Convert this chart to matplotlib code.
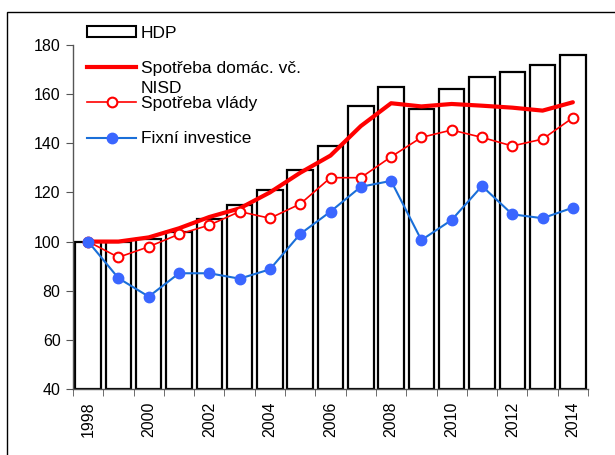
import matplotlib
matplotlib.use("Agg")
import matplotlib.pyplot as plt
from matplotlib.patches import Rectangle, Patch
from matplotlib.lines import Line2D

plt.rcParams['font.family'] = ['Liberation Sans', 'DejaVu Sans']

years = list(range(1998, 2015))
hdp = [100, 100, 101, 104, 109, 115, 121, 129, 139, 155, 163, 154, 162, 167, 169, 172, 176]
consumption = [100, 100, 101.7, 105.4, 110, 113.5, 120, 128, 135, 147, 156.3, 155, 156, 155.3, 154.5, 153.3, 156.7]
government = [100, 93.6, 97.9, 103, 106.7, 112.2, 109.5, 115.3, 126, 126, 134.5, 142.4, 145.4, 142.4, 138.9, 141.7, 150.4]
investment = [100, 85.1, 77.6, 87.1, 87.1, 84.9, 88.7, 103.1, 112.2, 122.3, 124.7, 100.6, 108.8, 122.6, 111.1, 109.5, 113.8]
yticks = [40, 60, 80, 100, 120, 140, 160, 180]
xlabels_years = [1998, 2000, 2002, 2004, 2006, 2008, 2010, 2012, 2014]

W, H = 615, 455
fig = plt.figure(figsize=(W / 100, H / 100), dpi=100)
ax = fig.add_axes([73 / W, 1 - 389 / H, (588 - 73) / W, (389 - 45) / H])

# outer frame
fig.patches.append(Rectangle((7 / W, -0.1), 1.2, 1.1 - 12 / H, transform=fig.transFigure,
                             fill=False, edgecolor='black', linewidth=1.0))

ax.bar(years, [v - 40 for v in hdp], bottom=40, width=0.84, color='white',
       edgecolor='black', linewidth=1.6, zorder=2)
ax.plot(years, consumption, color='#ff0000', linewidth=3.0, zorder=3,
        solid_capstyle='round', solid_joinstyle='round')
ax.plot(years, government, color='#ff0000', linewidth=1.2, marker='o', markersize=7,
        markerfacecolor='white', markeredgecolor='#ff0000', markeredgewidth=1.5, zorder=4)
ax.plot(years, investment, color='#1a6fd8', linewidth=1.5, marker='o', markersize=7.5,
        markerfacecolor='#3a66ff', markeredgecolor='#3a66ff', zorder=5)

ax.set_xlim(1997.5, 2014.5)
ax.set_ylim(40, 180)
ax.set_yticks(yticks)
ax.set_yticklabels([str(v) for v in yticks], fontsize=11.5)
ax.set_xticks(xlabels_years)
ax.set_xticklabels([str(y) for y in xlabels_years], rotation=90, fontsize=11.5)
ax.tick_params(axis='x', which='major', length=0, pad=9)
ax.set_xticks([y - 0.5 for y in years] + [years[-1] + 0.5], minor=True)
ax.tick_params(axis='x', which='minor', length=5, direction='out', color='#555555')
ax.tick_params(axis='y', length=5, direction='out', color='#555555', pad=4)
for s in ['top', 'right']:
    ax.spines[s].set_visible(False)
for s in ['left', 'bottom']:
    ax.spines[s].set_color('#555555')
    ax.spines[s].set_linewidth(1.0)

handles = [
    Patch(facecolor='white', edgecolor='black', linewidth=1.5),
    Line2D([], [], color='#ff0000', linewidth=3.0),
    Line2D([], [], color='#ff0000', linewidth=1.2, marker='o', markersize=7,
           markerfacecolor='white', markeredgecolor='#ff0000', markeredgewidth=1.5),
    Line2D([], [], color='#1a6fd8', linewidth=1.5, marker='o', markersize=7.5,
           markerfacecolor='#3a66ff', markeredgecolor='#3a66ff'),
]
labels = ['HDP', 'Spotřeba domác. vč.', 'Spotřeba vlády', 'Fixní investice']
leg = fig.legend(handles, labels, loc='upper left', bbox_to_anchor=(87 / W, 1 - 26 / H),
                 frameon=False, fontsize=12.5, handlelength=2.85, handletextpad=0.25,
                 handleheight=0.6, labelspacing=1.16, borderpad=0, borderaxespad=0)
leg.set_zorder(10)
fig.canvas.draw()
t = leg.get_texts()[1]
bb = t.get_window_extent()
fig.text(bb.x0 / W, (bb.y0 - 5) / H, 'NISD', fontsize=12.5, va='top', ha='left')

fig.savefig('out.png', dpi=100)
